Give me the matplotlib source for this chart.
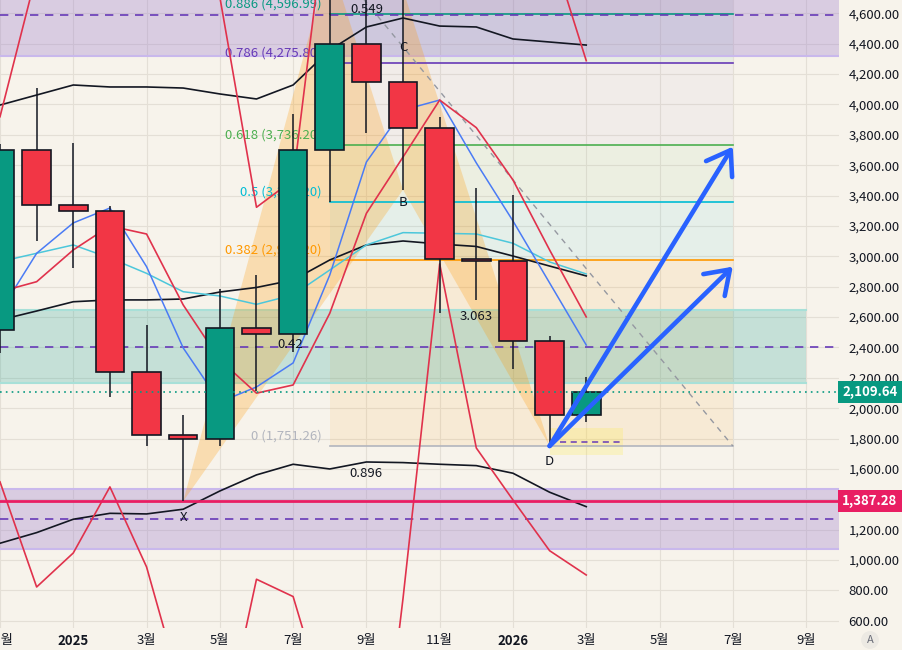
import numpy as np
import matplotlib.pyplot as plt
from matplotlib.patches import Rectangle, Polygon
import matplotlib.transforms as mtrans

plt.rcParams['font.family'] = ['Noto Sans CJK KR', 'DejaVu Sans']

# monthly candles, x = month index (0 = 2024-11 ... 16 = 2026-03)
months = np.arange(17)
opens  = [2514, 3700, 3335, 3298, 2236, 1822, 1795, 2525, 2486, 3700, 4395, 4150, 3845, 2985, 2968, 2445, 1955]
highs  = [3740, 4110, 3745, 3330, 2550, 1955, 2788, 2878, 3940, 4955, 4770, 4755, 3920, 3450, 3405, 2475, 2205]
lows   = [2364, 3100, 2920, 2075, 1754, 1387.28, 1752, 2112, 2372, 3360, 3814, 3438, 2625, 2715, 2255, 1751.26, 1910]
closes = [3700, 3335, 3298, 2236, 1822, 1795, 2525, 2486, 3700, 4395, 4150, 3845, 2985, 2968, 2445, 1955, 2109.64]

# indicator lines
bb_upper = [3996, 4062, 4128, 4115, 4115, 4108, 4069, 4036, 4128, 4358, 4510, 4569, 4516, 4510, 4431, 4411, 4391]
bb_basis = [2581, 2640, 2701, 2713, 2713, 2719, 2765, 2795, 2844, 2976, 3075, 3101, 3081, 3065, 3002, 2936, 2871]
bb_lower = [1111, 1181, 1269, 1308, 1304, 1335, 1455, 1561, 1631, 1600, 1646, 1642, 1631, 1622, 1572, 1447, 1352]
ma_cyan  = [2965, 3020, 3075, 2989, 2888, 2767, 2739, 2684, 2746, 2910, 3075, 3156, 3152, 3147, 3086, 2963, 2884]
ma_blue  = [2634, 3020, 3220, 3318, 2932, 2397, 2041, 2140, 2298, 2877, 3621, 3963, 4029, 3615, 3233, 2825, 2416]
ma_red   = [2767, 2833, 3042, 3200, 3147, 2680, 2318, 2099, 2153, 2625, 3283, 3654, 4029, 3847, 3503, 3042, 2601]
env_up   = [3919, 4865, 5300, 5600, 5400, 5000, 4707, 3323, 3503, 5453, 5900, 6200, 6000, 5800, 5500, 5056, 4288]
env_low  = [1515, 823, 1047, 1482, 955, 100, -243, 874, 760, -46, -1257, 749, 2950, 1738, 1396, 1062, 902]

# fib retracement (from 2025-08 to 2026-07)
fib_top, fib_bottom = 4963.14, 1751.26
fib_ratios = [0, 0.382, 0.5, 0.618, 0.786, 0.886, 1]
fib_colors = ['#B2B5BE', '#FF9800', '#00BCD4', '#4CAF50', '#673AB7', '#089981', '#787B86']
fib_fill_alpha = [0, 0.09, 0.07, 0.06, 0.035, 0.06, 0.14]
fib_x0, fib_x1 = 9, 20

# zones
purple_top = (4319, 4589, 4859)
purple_low = (1072, 1269, 1467)
teal_zone = (2164, 2401, 2647)
last_price = 2109.64
support = 1387.28

# arrow targets
arrow_tips = [3722, 2932]

# axis labels
xticks = np.arange(0, 23, 2)
xlabels = ['11월', '2025', '3월', '5월', '7월', '9월', '11월', '2026', '3월', '5월', '7월', '9월']
yticks = list(range(600, 4601, 200))

bg = '#F7F3EB'
ink = '#131722'
up_c, dn_c = '#089981', '#F23645'

fig = plt.figure(figsize=(9.03, 6.5), dpi=100, facecolor=bg)
ax = fig.add_axes([0, 22/650, 839/903, 628/650], facecolor=bg)
ax.set_xlim(0, 839/36.64)
ax.set_ylim(553, 4687.6)

# grid
for x in xticks:
    ax.axvline(x, color='#E4DFD6', lw=0.8, zorder=0)
for y in yticks:
    ax.axhline(y, color='#E4DFD6', lw=0.8, zorder=0)

# fib fills and lines
levels = [fib_bottom + r*(fib_top - fib_bottom) for r in fib_ratios]
for k in range(1, len(levels)):
    ax.fill_between([fib_x0, fib_x1], levels[k-1], levels[k], color=fib_colors[k],
                    alpha=fib_fill_alpha[k], lw=0, zorder=0.5)
for r, v, c in zip(fib_ratios, levels, fib_colors):
    if r == 1:
        continue
    ax.plot([fib_x0, fib_x1], [v, v], color=c, lw=1.2, zorder=2)
    ax.annotate(f"{r:g} ({v:,.2f})", xy=(fib_x0, v), xytext=(-6, 2.5), textcoords='offset points',
                ha='right', va='bottom', color=c, fontsize=9.5, zorder=2)
ax.plot([fib_x0, fib_x1], [fib_top, fib_bottom], color='#9598A1', ls=(0, (4, 4)), lw=1, zorder=2)

# zones
ax.axhspan(purple_top[0], purple_top[2], color='#9575CD', alpha=0.3, lw=0, zorder=0.6)
ax.axhline(purple_top[0], color='#C9B8EC', lw=1.5, zorder=0.7)
ax.axhline(purple_top[1], color='#673AB7', lw=1.2, ls=(0, (5, 4)), zorder=2)
ax.axhspan(purple_low[0], purple_low[2], color='#9575CD', alpha=0.3, lw=0, zorder=0.6)
ax.axhline(purple_low[0], color='#C9B8EC', lw=1.5, zorder=0.7)
ax.axhline(purple_low[2], color='#C9B8EC', lw=1.5, zorder=0.7)
ax.axhline(purple_low[1], color='#673AB7', lw=1.2, ls=(0, (5, 4)), zorder=2)
ax.fill_between([-1, 22], teal_zone[0], teal_zone[2], color='#26A69A', alpha=0.24, lw=0, zorder=0.6)
ax.plot([-1, 22], [teal_zone[0]]*2, color='#A8E0D8', lw=1.5, zorder=0.7)
ax.plot([-1, 22], [teal_zone[2]]*2, color='#A8E0D8', lw=1.5, zorder=0.7)
ax.axhline(teal_zone[1], color='#673AB7', lw=1.2, ls=(0, (5, 4)), zorder=2)

# XABCD triangles
X, A, B, C, D = (5, lows[5]), (9, highs[9]), (11, lows[11]), (11, highs[11]), (15, lows[15])
ax.add_patch(Polygon([X, A, B], closed=True, fc='#FF9800', alpha=0.25, lw=0, zorder=1))
ax.add_patch(Polygon([B, C, D], closed=True, fc='#FF9800', alpha=0.25, lw=0, zorder=1))

# yellow box near D
ax.add_patch(Rectangle((15, 1692), 2.0, 178, fc='#FFEB3B', alpha=0.22, lw=0, zorder=1))
ax.plot([15.28, 17.0], [1778, 1778], color='#673AB7', lw=1.1, ls=(0, (4, 3)), zorder=2)

# indicator lines
ax.plot(months, bb_upper, color=ink, lw=1.2, zorder=3)
ax.plot(months, bb_basis, color=ink, lw=1.2, zorder=3)
ax.plot(months, bb_lower, color=ink, lw=1.2, zorder=3)
ax.plot(months, ma_cyan, color='#4CC7DB', lw=1.1, zorder=3)
ax.plot(months, ma_blue, color='#4A7BF5', lw=1.1, zorder=3)
ax.plot(months, ma_red, color='#E0324C', lw=1.2, zorder=3)
ax.plot(months, env_up, color='#E0324C', lw=1.2, zorder=3)
ax.plot(months, env_low, color='#E0324C', lw=1.2, zorder=3)

ax.axhline(support, color='#E91E63', lw=2, zorder=3.5)

# candles
for i, o, h, l, c in zip(months, opens, highs, lows, closes):
    ax.vlines(i, l, h, color=ink, lw=1.1, zorder=5)
    col = up_c if c >= o else dn_c
    ax.add_patch(Rectangle((i - 0.39, min(o, c)), 0.78, abs(c - o), fc=col, ec=ink, lw=1.2, zorder=6))

ax.axhline(last_price, color='#089981', lw=1.2, ls=(0, (1, 2.5)), zorder=7)

# arrows
for tip in arrow_tips:
    ax.annotate('', xy=(fib_x1, tip), xytext=D,
                arrowprops=dict(arrowstyle='->,head_length=0.8,head_width=0.55', lw=3.3,
                                color='#2962FF', shrinkA=0, shrinkB=0, mutation_scale=20,
                                capstyle='round', joinstyle='round'), zorder=8)

# pattern labels
lab = dict(color=ink, fontsize=9.5, ha='center', va='center', zorder=9)
ax.text(5, 1280, 'X', **lab)
ax.text(15, 1650, 'D', **lab)
ax.text(11, 3355, 'B', **lab)
ax.text(11, 4378, 'C', **lab)
ax.text(10, 4622, '0.549', **lab)
ax.text(7.92, 2417, '0.42', **lab)
ax.text(13, 2607, '3.063', **lab)
ax.text(10, 1567, '0.896', **lab)

# axes styling
for s in ax.spines.values():
    s.set_visible(False)
ax.yaxis.tick_right()
ax.set_yticks(yticks)
# 1,400 is covered by the support price tag
ax.set_yticklabels(['' if v == 1400 else f"{v:,.2f}" for v in yticks])
ax.tick_params(axis='y', length=0, pad=7, labelsize=9.5, labelcolor=ink)
ax.set_xticks(xticks)
ax.set_xticklabels(xlabels)
ax.tick_params(axis='x', length=0, pad=4, labelsize=9.5, labelcolor=ink)
for t in ax.get_xticklabels():
    if t.get_text() in ('2025', '2026'):
        t.set_fontweight('bold')

# price tags on the axis
tr = mtrans.blended_transform_factory(ax.transAxes, ax.transData)
ax.text(1.004, last_price, '2,109.64', transform=tr, ha='left', va='center', color='white',
        fontsize=9.5, fontweight='bold', zorder=10, clip_on=False,
        bbox=dict(boxstyle='square,pad=0.3', fc='#089981', ec='none'))
ax.text(1.004, support, '1,387.28', transform=tr, ha='left', va='center', color='white',
        fontsize=9.5, fontweight='bold', zorder=10, clip_on=False,
        bbox=dict(boxstyle='square,pad=0.3', fc='#E91E63', ec='none'))

fig.text(870/903, 10/650, 'A', ha='center', va='center', fontsize=8, color='#6A6D78',
         bbox=dict(boxstyle='circle,pad=0.35', fc='#ECE9E3', ec='none'))

fig.savefig('out.png', dpi=100, facecolor=bg)
